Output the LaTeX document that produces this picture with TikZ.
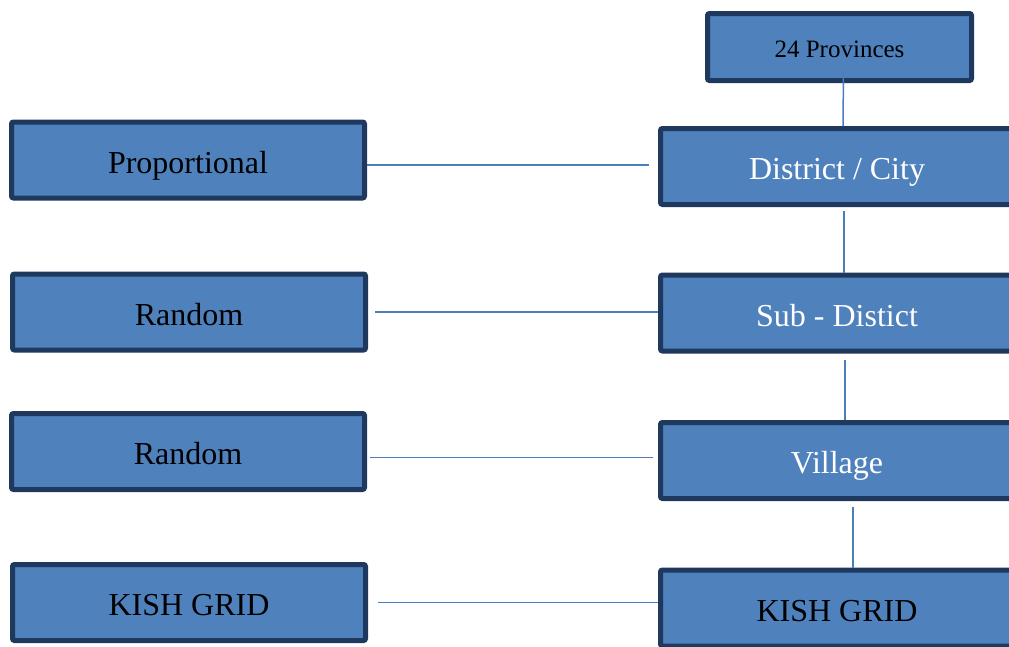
\documentclass[tikz,border=0pt]{standalone}
\usepackage{fontspec}
\setmainfont{Liberation Serif}
\usepackage{tikz}
\usetikzlibrary{positioning, calc}
\definecolor{boxfill}{RGB}{79,129,189}
\definecolor{boxedge}{RGB}{31,56,93}
\definecolor{linkblue}{RGB}{74,126,187}
\tikzset{
  levelbox/.style  = {rectangle, rounded corners=2pt, draw=boxedge, fill=boxfill,
                      line width=5pt, minimum width=353pt, minimum height=76pt,
                      inner sep=0pt, align=center, text height=26pt, text depth=0pt,
                      font=\fontsize{32}{38}\selectfont, text=#1},
  levelbox/.default = black,
  topbox/.style    = {levelbox, minimum width=264pt, minimum height=67pt,
                      text height=20pt, font=\fontsize{25}{30}\selectfont},
  link/.style      = {line width=1.5pt, color=linkblue},
}
\begin{document}
\begin{tikzpicture}[x=1pt, y=1pt]
  \useasboundingbox (0,0) rectangle (1009,-646);
  \clip (0,0) rectangle (1009,-646);

  % sampling stages
  \node[topbox] (prov) at (839.5,-47) {24 Provinces};
  \node[levelbox=white] (dist) at (837,-166.5) {District / City};
  \node[levelbox=white] (sub) at (837,-313) {Sub - Distict};
  \node[levelbox=white] (vill) at (837,-460.5) {Village};
  \node[levelbox] (kishr) at (837,-608) {KISH GRID};

  % selection methods
  \node[levelbox] (prop) at (188,-160) {Proportional};
  \node[levelbox] (rand1) at (189,-312) {Random};
  \node[levelbox] (rand2) at (188,-451.5) {Random};
  \node[levelbox] (kishl) at (189,-602.5) {KISH GRID};

  \draw[link] ([xshift=4pt,yshift=-23pt]prov.center) -- ([xshift=6pt]dist.north);
  \draw[link, shorten <=4pt] ([xshift=7pt]dist.south) -- ([xshift=7pt]sub.north);
  \draw[link, shorten <=6pt] ([xshift=8pt]sub.south) -- ([xshift=8pt]vill.north);
  \draw[link, shorten <=6pt] ([xshift=16pt]vill.south) -- ([xshift=16pt]kishr.north);

  \draw[link, shorten >=9pt] ([yshift=-5pt]prop.east) -- ([yshift=-5pt]prop.east -| dist.west);
  \draw[link, shorten <=7pt] (rand1.east) -- (rand1.east -| sub.west);
  \draw[link, shorten <=3pt, shorten >=5pt] ([yshift=-6pt]rand2.east) -- ([yshift=-6pt]rand2.east -| vill.west);
  \draw[link, shorten <=10pt] (kishl.east) -- (kishl.east -| kishr.west);
\end{tikzpicture}
\end{document}
